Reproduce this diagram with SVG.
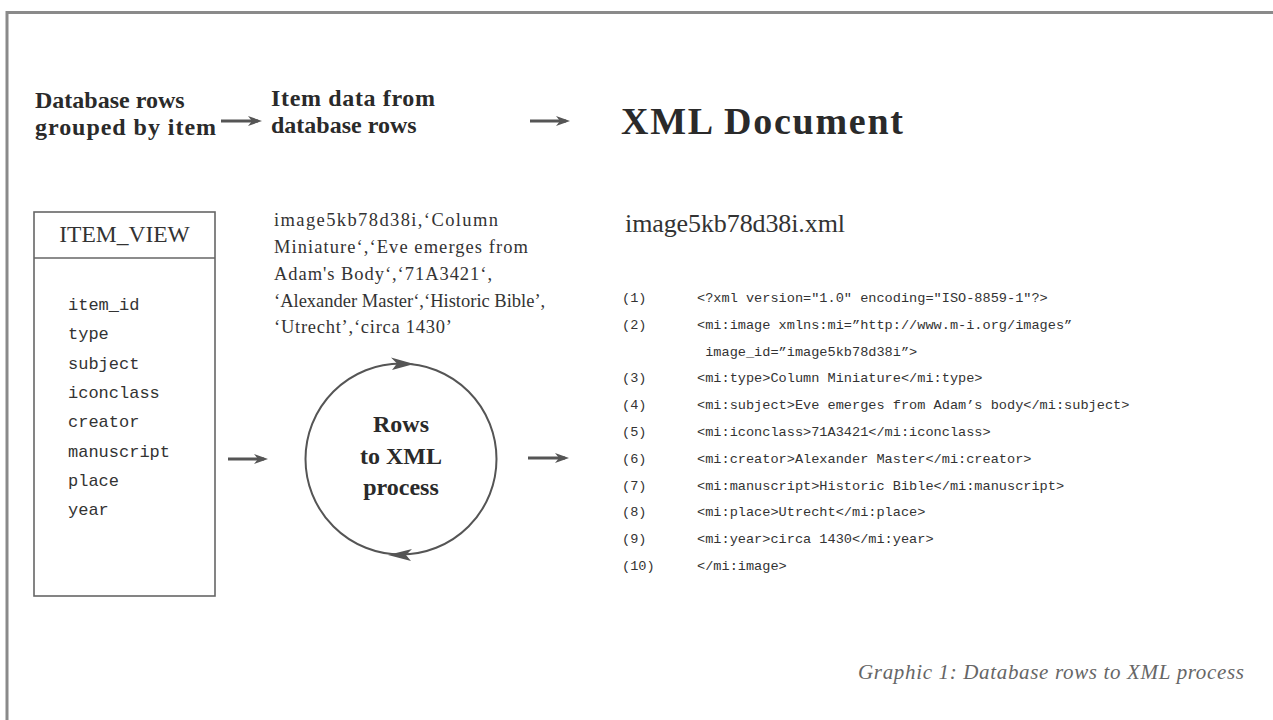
<svg xmlns="http://www.w3.org/2000/svg" width="1273" height="720" viewBox="0 0 1273 720">
<defs>
<style>
.hdr{font-family:"Liberation Serif","Times New Roman",serif;font-weight:bold;fill:#2a2a2a}
.ser{font-family:"Liberation Serif","Times New Roman",serif;fill:#333}
.mono{font-family:"Liberation Mono","Courier New",monospace;fill:#333}
.code{font-family:"Liberation Mono","Courier New",monospace;fill:#333;font-size:13.6px}
.conn{stroke:#555;stroke-width:3;fill:none}
.shape{stroke:#666;stroke-width:1.6;fill:#fff}
</style>
<marker id="ah" markerUnits="userSpaceOnUse" markerWidth="16" markerHeight="12" refX="10" refY="5" orient="auto">
<path d="M0,0 L14,5 L0,10 L4,5 Z" fill="#555"/>
</marker>
</defs>
<rect width="1273" height="720" fill="#fff"/>
<g id="frame">
<line x1="7" y1="12.5" x2="1273" y2="12.5" stroke="#8a8a8a" stroke-width="3"/>
<line x1="7" y1="11" x2="7" y2="720" stroke="#8a8a8a" stroke-width="3"/>
</g>
<g id="header">
<text class="hdr" font-size="24" x="35" y="108">Database rows</text>
<text class="hdr" font-size="24" x="35" y="135" textLength="181" lengthAdjust="spacing">grouped by item</text>
<text class="hdr" font-size="24" x="271" y="106" textLength="164" lengthAdjust="spacing">Item data from</text>
<text class="hdr" font-size="24" x="271" y="133">database rows</text>
<text class="hdr" font-size="38" x="621" y="134" textLength="282" lengthAdjust="spacing">XML Document</text>
</g>
<g id="item_view">
<rect class="shape" x="34" y="212" width="181" height="384"/>
<line x1="34" y1="258" x2="215" y2="258" stroke="#666" stroke-width="1.6"/>
<text class="ser" font-size="23.5" x="124.5" y="242" text-anchor="middle">ITEM_VIEW</text>
<text class="mono" font-size="17" x="68" y="310">item_id</text>
<text class="mono" font-size="17" x="68" y="339.3">type</text>
<text class="mono" font-size="17" x="68" y="368.6">subject</text>
<text class="mono" font-size="17" x="68" y="397.9">iconclass</text>
<text class="mono" font-size="17" x="68" y="427.2">creator</text>
<text class="mono" font-size="17" x="68" y="456.5">manuscript</text>
<text class="mono" font-size="17" x="68" y="485.8">place</text>
<text class="mono" font-size="17" x="68" y="515.1">year</text>
</g>
<g id="item_data">
<text class="ser" font-size="18.5" x="274" y="226" textLength="224" lengthAdjust="spacing">image5kb78d38i,‘Column</text>
<text class="ser" font-size="18.5" x="274" y="253" textLength="254" lengthAdjust="spacing">Miniature‘,‘Eve emerges from</text>
<text class="ser" font-size="18.5" x="274" y="280" textLength="218" lengthAdjust="spacing">Adam's Body‘,‘71A3421‘,</text>
<text class="ser" font-size="18.5" x="274" y="306.5">‘Alexander Master‘,‘Historic Bible’,</text>
<text class="ser" font-size="18.5" x="274" y="333" textLength="178" lengthAdjust="spacing">‘Utrecht’,‘circa 1430’</text>
</g>
<g id="process">
<circle cx="401" cy="459" r="95.5" fill="none" stroke="#555" stroke-width="2"/>
<polygon points="414,364 391,357.5 397,363.5 392,370" fill="#555"/>
<polygon points="388,555 412,549 406,555 411,561" fill="#555"/>
<text class="hdr" font-size="24" x="401" y="432" text-anchor="middle">Rows</text>
<text class="hdr" font-size="24" x="401" y="463.5" text-anchor="middle">to XML</text>
<text class="hdr" font-size="24" x="401" y="495" text-anchor="middle">process</text>
</g>
<g id="xml_doc">
<text class="ser" font-size="26" x="625" y="232" textLength="220" lengthAdjust="spacing">image5kb78d38i.xml</text>
<text class="code" x="622" y="302">(1)</text>
<text class="code" x="697" y="302">&lt;?xml version="1.0" encoding="ISO-8859-1"?&gt;</text>
<text class="code" x="622" y="328.8">(2)</text>
<text class="code" x="697" y="328.8">&lt;mi:image xmlns:mi=”http://www.m-i.org/images”</text>
<text class="code" x="697" y="355.6" xml:space="preserve"> image_id=”image5kb78d38i”&gt;</text>
<text class="code" x="622" y="382.4">(3)</text>
<text class="code" x="697" y="382.4">&lt;mi:type&gt;Column Miniature&lt;/mi:type&gt;</text>
<text class="code" x="622" y="409.2">(4)</text>
<text class="code" x="697" y="409.2">&lt;mi:subject&gt;Eve emerges from Adam’s body&lt;/mi:subject&gt;</text>
<text class="code" x="622" y="436">(5)</text>
<text class="code" x="697" y="436">&lt;mi:iconclass&gt;71A3421&lt;/mi:iconclass&gt;</text>
<text class="code" x="622" y="462.8">(6)</text>
<text class="code" x="697" y="462.8">&lt;mi:creator&gt;Alexander Master&lt;/mi:creator&gt;</text>
<text class="code" x="622" y="489.6">(7)</text>
<text class="code" x="697" y="489.6">&lt;mi:manuscript&gt;Historic Bible&lt;/mi:manuscript&gt;</text>
<text class="code" x="622" y="516.4">(8)</text>
<text class="code" x="697" y="516.4">&lt;mi:place&gt;Utrecht&lt;/mi:place&gt;</text>
<text class="code" x="622" y="543.2">(9)</text>
<text class="code" x="697" y="543.2">&lt;mi:year&gt;circa 1430&lt;/mi:year&gt;</text>
<text class="code" x="622" y="570">(10)</text>
<text class="code" x="697" y="570">&lt;/mi:image&gt;</text>
</g>
<g id="connectors">
<line class="conn" x1="221" y1="121" x2="258" y2="121" marker-end="url(#ah)"/>
<line class="conn" x1="530" y1="121" x2="566" y2="121" marker-end="url(#ah)"/>
<line class="conn" x1="228" y1="459" x2="264" y2="459" marker-end="url(#ah)"/>
<line class="conn" x1="528" y1="458" x2="565" y2="458" marker-end="url(#ah)"/>
</g>
<text id="caption" font-family="Liberation Serif, Times New Roman, serif" font-style="italic" font-size="21" fill="#666" x="1244" y="679" text-anchor="end" textLength="386" lengthAdjust="spacing">Graphic 1: Database rows to XML process</text>
</svg>
